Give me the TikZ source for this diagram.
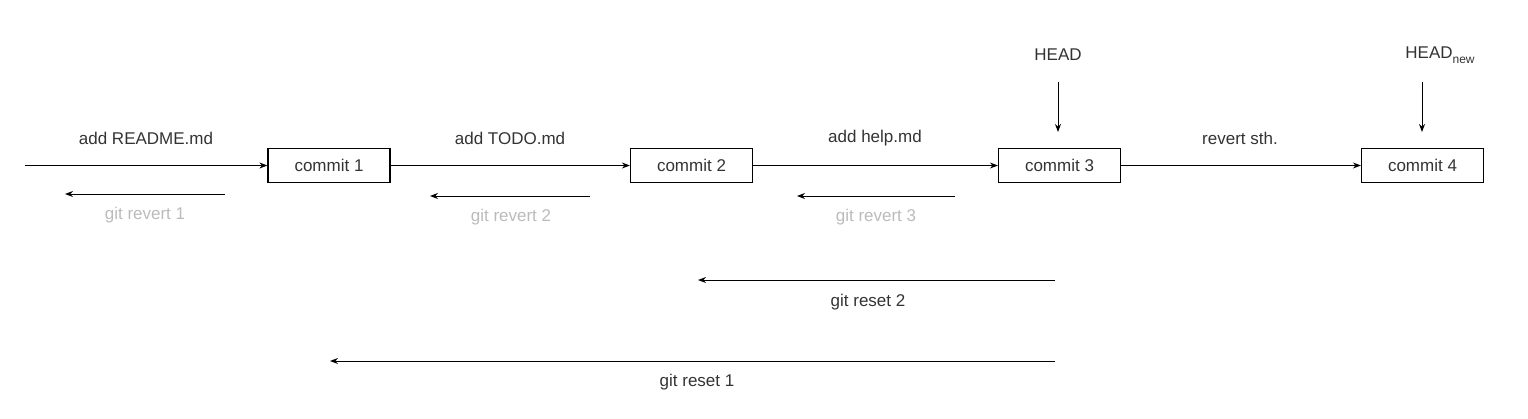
\documentclass[tikz,border=0pt]{standalone}
\usepackage{fontspec}
\setmainfont{Liberation Sans}
\usetikzlibrary{arrows.meta}
\definecolor{txt}{HTML}{333333}
\definecolor{dim}{HTML}{BBBBBB}
\begin{document}
\begin{tikzpicture}[x=1pt,y=-1pt,
  box/.style={draw=black,line width=1.2pt,minimum width=122pt,minimum height=34pt,inner sep=0pt,font=\fontsize{17}{20}\selectfont,text=txt},
  lab/.style={font=\fontsize{17}{20}\selectfont,text=txt,inner sep=0pt},
  glab/.style={lab,text=dim},
  arr/.style={-{Stealth[length=8pt,width=6pt]},line width=1pt}]
\useasboundingbox (0,0) rectangle (1528,418);
\node[box] (c1) at (329,165.5) {commit 1};
\node[box] (c2) at (691.5,165.5) {commit 2};
\node[box] (c3) at (1059.5,165.5) {commit 3};
\node[box] (c4) at (1422.5,165.5) {commit 4};
\coordinate (s) at (25,165.5);
\draw[arr] (s) -- (c1);
\draw[arr] (c1) -- (c2);
\draw[arr] (c2) -- (c3);
\draw[arr] (c3) -- (c4);
\node[lab] (l1) at (146,138) {add README.md};
\node[lab] (l2) at (510,138) {add TODO.md};
\node[lab] (l3) at (875,138) {add help.md};
\node[lab] (l4) at (1240,138) {revert sth.};
% revert arrows
\coordinate (r1a) at (225,194); \coordinate (r1b) at (65,194);
\coordinate (r2a) at (590,196); \coordinate (r2b) at (430,196);
\coordinate (r3a) at (955,196); \coordinate (r3b) at (797,196);
\draw[arr] (r1a) -- (r1b);
\draw[arr] (r2a) -- (r2b);
\draw[arr] (r3a) -- (r3b);
\node[glab] (g1) at (145,215) {git revert 1};
\node[glab] (g2) at (511,217) {git revert 2};
\node[glab] (g3) at (876,217) {git revert 3};
% heads
\node[lab] (h) at (1058,55) {HEAD};
\node[lab] (hn) at (1440,55) {HEAD\raisebox{-0.5ex}{\fontsize{12}{14}\selectfont new}};
\coordinate (h1) at (1058,82); \coordinate (h2) at (1058,132);
\coordinate (hn1) at (1422,82); \coordinate (hn2) at (1422,132);
\draw[arr] (h1) -- (h2);
\draw[arr] (hn1) -- (hn2);
% resets
\coordinate (ra) at (1055,280); \coordinate (rb) at (698,280);
\coordinate (qa) at (1055,361); \coordinate (qb) at (330,361);
\draw[arr] (ra) -- (rb);
\draw[arr] (qa) -- (qb);
\node[lab] (t2) at (868,302) {git reset 2};
\node[lab] (t1) at (697,382) {git reset 1};
\end{tikzpicture}
\end{document}
